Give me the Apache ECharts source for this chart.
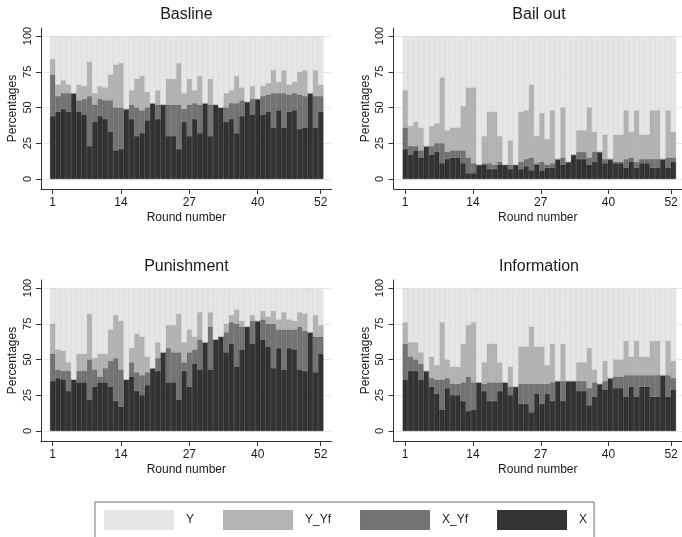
<!DOCTYPE html>
<html><head><meta charset="utf-8">
<script src="https://cdn.jsdelivr.net/npm/echarts@6/dist/echarts.min.js"></script>
<style>html,body{margin:0;padding:0;background:#fff}#c{width:682px;height:537px}</style>
</head><body><div id="c"></div>
<script>
const rounds = [1,2,3,4,5,6,7,8,9,10,11,12,13,14,15,16,17,18,19,20,21,22,23,24,25,26,27,28,29,30,31,32,33,34,35,36,37,38,39,40,41,42,43,44,45,46,47,48,49,50,51,52];
const xTickRounds = [1,14,27,40,52];
const yTicks = [0,25,50,75,100];
const panelTitles = ['Basline','Bail out','Punishment','Information'];
const legendOrder = ['Y','Y_Yf','X_Yf','X'];

// Basline
const baslineX    = [44,47,49,47,60,47,45,23,40,44, 42,33,20,21,49,42,30,32,41,53, 42,52,30,30,21,40,30,42,32,53, 30,52,50,40,42,32,44,54,45,56, 45,47,36,48,36,47,48,35,36,60, 36,47];
const baslineXYf  = [29,11,11,13,0,8,11,35,12,12, 13,22,30,29,0,10,20,16,9,0, 10,0,22,22,31,9,22,11,20,0, 22,0,0,10,11,21,11,0,11,0, 13,12,24,12,24,12,12,24,22,0, 22,11];
const baslineYYf  = [11,8,9,6,0,11,9,24,8,9, 9,18,30,31,0,10,20,24,11,0, 10,0,18,18,29,11,18,9,20,0, 18,0,0,10,9,19,9,0,9,0, 7,8,16,8,16,7,8,16,18,0, 18,8];
const baslineY    = [16,34,31,34,40,34,35,18,40,35, 36,27,20,19,51,38,30,28,39,47, 38,48,30,30,19,40,30,38,28,47, 30,48,50,40,38,28,36,46,35,44, 35,33,24,32,24,34,32,25,24,40, 24,34];

// Bail out
const bailX    = [21,17,20,15,23,17,19,11,14,15, 15,11,4,4,10,10,7,7,10,10, 7,10,7,9,6,10,6,8,8,14, 10,12,17,14,14,10,12,19,11,14, 11,11,8,12,8,11,11,8,8,14, 8,12];
const bailXYf  = [15,6,3,5,0,6,6,14,5,5, 5,9,11,7,0,1,4,3,2,0, 3,0,5,5,9,1,6,2,3,0, 5,0,0,5,5,5,7,0,3,0, 1,1,6,3,4,3,3,6,6,0, 7,3];
const bailYYf  = [26,14,17,16,0,14,14,46,15,16, 16,31,49,53,0,19,36,37,18,0, 17,0,35,34,51,19,34,18,37,0, 35,0,0,15,15,35,14,0,17,0, 19,19,34,18,36,17,17,34,34,0, 33,18];
const bailY    = [38,63,60,64,77,63,61,29,66,64, 64,49,36,36,90,70,53,53,70,90, 73,90,53,52,34,70,54,72,52,86, 50,88,83,66,66,50,67,81,69,86, 69,69,52,67,52,69,69,52,52,86, 52,67];

// Punishment
const punX    = [35,37,36,28,36,34,34,22,31,34, 34,31,21,17,36,38,28,25,32,44, 42,55,34,34,22,42,31,47,43,62, 43,64,66,55,61,45,57,73,61,77, 64,59,44,58,43,58,57,43,42,69, 41,54];
const punXYf  = [19,6,6,14,0,8,8,28,12,4, 10,18,30,26,0,10,13,14,9,0, 9,0,24,21,33,6,24,10,21,0, 30,0,0,14,15,30,16,0,16,0, 14,16,31,13,28,13,14,30,28,0, 25,12];
const punYYf  = [21,14,14,6,0,12,12,32,8,16, 10,22,30,34,0,10,27,27,11,0, 11,0,16,19,27,14,16,9,19,0, 10,0,0,6,5,10,4,0,4,0, 6,5,9,7,12,7,6,10,12,0, 15,8];
const punY    = [25,43,44,52,64,46,46,18,49,46, 46,29,19,23,64,42,32,34,48,56, 38,45,26,26,18,38,29,34,17,38, 17,36,34,25,19,15,23,27,19,23, 16,20,16,22,17,22,23,17,18,31, 19,26];

// Information
const infoX    = [36,42,42,36,42,31,26,15,30,25, 25,21,14,15,34,28,21,21,28,34, 25,31,19,19,13,26,19,26,21,35, 21,35,35,28,28,18,24,33,29,37, 30,30,24,31,24,31,31,24,24,39, 24,29];
const infoXYf  = [25,10,8,11,0,6,10,21,7,8, 8,13,24,19,0,5,13,13,6,0, 6,0,14,14,20,7,14,7,13,0, 14,0,0,7,7,12,10,0,6,0, 8,8,15,8,15,8,8,15,15,0, 15,8];
const infoYYf  = [15,10,12,8,0,15,10,40,13,12, 12,27,36,42,0,15,27,27,14,0, 14,0,26,26,40,26,26,13,27,0, 26,0,0,13,13,28,9,0,14,0, 12,12,24,13,24,13,13,24,24,0, 24,12];
const infoY    = [24,38,38,45,58,48,54,24,50,55, 55,39,26,24,66,52,39,39,52,66, 55,69,41,41,27,41,41,54,39,65, 39,65,65,52,52,42,57,67,51,63, 50,50,37,48,37,48,48,37,37,61, 37,51];

const panelData = [
  {X: baslineX, X_Yf: baslineXYf, Y_Yf: baslineYYf, Y: baslineY},
  {X: bailX, X_Yf: bailXYf, Y_Yf: bailYYf, Y: bailY},
  {X: punX, X_Yf: punXYf, Y_Yf: punYYf, Y: punY},
  {X: infoX, X_Yf: infoXYf, Y_Yf: infoYYf, Y: infoY}
];

const stackOrder = ['X','X_Yf','Y_Yf','Y'];
const fills   = {X:'#333333', X_Yf:'#737373', Y_Yf:'#b3b3b3', Y:'#e6e6e6'};
const borders = {X:'#1c1c1c', X_Yf:'#5e5e5e', Y_Yf:'#a3a3a3', Y:'#d6d6d6'};
const FONT = "'Liberation Sans', Arial, Helvetica, sans-serif";
const TXT = '#1a1a1a';

const offsets = [[0,0],[352.6,0],[0,252],[352.6,252]];
const grid = [], xAxis = [], yAxis = [], series = [], graphic = [];

offsets.forEach(([ox, oy], p) => {
  // outer frame grid (axes, ticks, grid lines)
  grid.push({left: 41 + ox, top: 28 + oy, width: 290.7, height: 161});
  // inner grid (bars)
  grid.push({left: 50.07 + ox, top: 36 + oy, width: 273.3, height: 143});
  const go = 2 * p, gi = 2 * p + 1;
  xAxis.push({
    gridIndex: go, type: 'value', min: -1.226, max: 54.09,
    axisLine: {show: true, onZero: false, lineStyle: {color: '#333', width: 1}},
    axisTick: {show: true, customValues: xTickRounds, length: 5, lineStyle: {color: '#333'}},
    axisLabel: {show: true, customValues: xTickRounds, fontSize: 12, color: TXT, fontFamily: FONT, margin: 8},
    splitLine: {show: false},
    name: 'Round number', nameLocation: 'middle', nameGap: 23,
    nameTextStyle: {fontSize: 12, color: TXT, fontFamily: FONT}
  });
  xAxis.push({gridIndex: gi, type: 'category', data: rounds, show: false, boundaryGap: true});
  yAxis.push({
    gridIndex: go, type: 'value', min: -7, max: 105.6,
    axisLine: {show: true, onZero: false, lineStyle: {color: '#333', width: 1}},
    axisTick: {show: true, customValues: yTicks, length: 5, lineStyle: {color: '#333'}},
    axisLabel: {show: true, customValues: yTicks, rotate: 90, fontSize: 11, color: TXT, fontFamily: FONT, margin: 8},
    splitLine: {show: true, lineStyle: {color: '#e2ebee', width: 1}},
    name: 'Percentages', nameLocation: 'middle', nameGap: 22, nameRotate: 90,
    nameTextStyle: {fontSize: 12, color: TXT, fontFamily: FONT}
  });
  yAxis.push({gridIndex: gi, type: 'value', min: 0, max: 100, show: false});
  stackOrder.forEach(name => {
    series.push({
      type: 'bar', name: name, stack: 'panel' + p,
      xAxisIndex: gi, yAxisIndex: gi,
      barCategoryGap: '0%',
      data: panelData[p][name],
      itemStyle: {color: fills[name], borderColor: borders[name], borderWidth: 0.6},
      emphasis: {disabled: true}
    });
  });
  graphic.push({
    type: 'text', x: 186.4 + ox, y: 14.5 + oy,
    style: {text: panelTitles[p], fontSize: 16, fontFamily: FONT, fill: TXT, align: 'center', verticalAlign: 'middle'}
  });
});

const chart = echarts.init(document.getElementById('c'), null, {renderer: 'canvas'});
chart.setOption({
  animation: false,
  backgroundColor: '#ffffff',
  grid, xAxis, yAxis, series, graphic,
  legend: {
    data: legendOrder, left: 95, top: 502, orient: 'horizontal',
    padding: [8, 7, 8, 9], itemWidth: 70, itemHeight: 20, itemGap: 29,
    icon: 'rect', selectedMode: false,
    borderColor: '#6e6e6e', borderWidth: 1, backgroundColor: '#fff',
    itemStyle: {borderWidth: 0},
    textStyle: {fontSize: 12, color: TXT, fontFamily: FONT, padding: [0, 0, 0, 7]}
  }
});
</script>
</body></html>
